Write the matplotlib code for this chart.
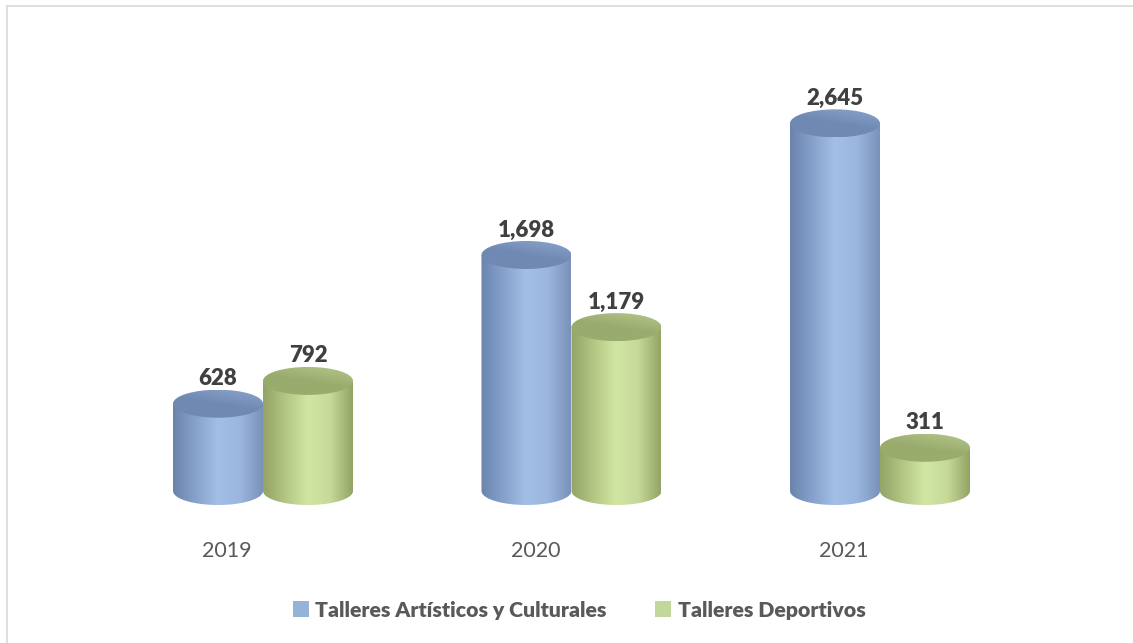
import numpy as np
import matplotlib
matplotlib.use("Agg")
import matplotlib.pyplot as plt
import matplotlib.transforms as mtransforms
from matplotlib.colors import LinearSegmentedColormap
from matplotlib.patches import Ellipse, Patch, PathPatch
from matplotlib.path import Path
from matplotlib.lines import Line2D

years = ["2019", "2020", "2021"]
series_names = ["Talleres Artísticos y Culturales", "Talleres Deportivos"]
artisticos = [628, 1698, 2645]
deportivos = [792, 1179, 311]

plt.rcParams['font.family'] = ['Lato', 'DejaVu Sans']

W, H = 1133, 643
fig = plt.figure(figsize=(W / 100, H / 100), dpi=100)
fig.patch.set_facecolor("white")

# axes placement (pixel based)
unit_px = 308.5
xlim = (-0.8, 2.8)
L = 263 - (0 - xlim[0]) * unit_px
R = L + (xlim[1] - xlim[0]) * unit_px
base_px = 491
ppu = 0.139
ylim = (-300, 3000)
bot_px = base_px - ylim[0] * ppu
top_px = base_px - ylim[1] * ppu
ax = fig.add_axes([L / W, (H - bot_px) / H, (R - L) / W, (bot_px - top_px) / H])
ax.set_xlim(*xlim)
ax.set_ylim(*ylim)
for s in ax.spines.values():
    s.set_visible(False)
ax.set_yticks([])
ax.set_xticks([])

bw = 90 / unit_px          # bar width in data units
eh = 14 / ppu              # ellipse half-height in data units

styles = [
    dict(body=["#6a84ad", "#86a2cc", "#a3bfe6", "#9ab6de", "#7a92ba"],
         top=("#7089b3", "#8ba4cc")),
    dict(body=["#93a466", "#b3c684", "#d2e6a4", "#c6d999", "#93a565"],
         top=("#99ab6d", "#b4c78a")),
]

def draw_cyl(xc, v, st, z):
    x0, x1 = xc - bw / 2, xc + bw / 2
    t = np.linspace(np.pi, 2 * np.pi, 40)
    lower = np.column_stack([xc + bw / 2 * np.cos(t), eh * np.sin(t)])
    verts = list(lower) + [(x1, v), (x0, v), (x0, 0)]
    codes = [Path.MOVETO] + [Path.LINETO] * (len(verts) - 2) + [Path.CLOSEPOLY]
    body = PathPatch(Path(verts, codes), facecolor="none", edgecolor="none",
                     transform=ax.transData)
    ax.add_patch(body)
    cmap = LinearSegmentedColormap.from_list("b", st["body"])
    grad = np.linspace(0, 1, 200).reshape(1, -1)
    im = ax.imshow(grad, extent=[x0, x1, -eh, v], aspect="auto", cmap=cmap,
                   zorder=z, interpolation="bilinear")
    im.set_clip_path(body)
    # top ellipse
    top = Ellipse((xc, v), bw, 2 * eh, facecolor="none", edgecolor="none",
                  transform=ax.transData)
    ax.add_patch(top)
    c0, c1 = st["top"]
    tc = LinearSegmentedColormap.from_list("t", [c0, c0, c1])
    gx, gy = np.meshgrid(np.linspace(0, 1, 60), np.linspace(0, 1, 30))
    g2 = 0.35 * gx + 0.65 * gy
    im2 = ax.imshow(g2, extent=[x0, x1, v + eh, v - eh], aspect="auto", cmap=tc,
                    zorder=z + 0.1, interpolation="bilinear")
    im2.set_clip_path(top)
    ax.annotate(f"{v:,}", (xc, v), xytext=(0, 18), textcoords="offset points",
                ha="center", va="center", fontsize=16, fontweight="heavy",
                color="#404040", zorder=z + 0.2, annotation_clip=False)

x = np.arange(len(years))
for i, (a, d) in enumerate(zip(artisticos, deportivos)):
    draw_cyl(x[i] - bw / 2, a, styles[0], 2 + i)
    draw_cyl(x[i] + bw / 2, d, styles[1], 2.5 + i)

ax.set_xlim(*xlim)
ax.set_ylim(*ylim)

# category labels (offset below the base, shifted left as in the 3D perspective)
offset = mtransforms.ScaledTranslation(0, -(551 - base_px) / 100, fig.dpi_scale_trans)
for i, yr in enumerate(years):
    ax.text(x[i] - 36 / unit_px, 0, yr, fontsize=15.5, color="#595959",
            ha="center", va="center", transform=ax.transData + offset)

handles = [Patch(facecolor="#95b3d7", edgecolor="none"),
           Patch(facecolor="#c3d69b", edgecolor="none")]
fig.legend(handles, series_names, loc="center", bbox_to_anchor=(0.511, 1 - 610 / H),
           ncol=2, frameon=False, handlelength=0.75, handleheight=0.75,
           handletextpad=0.3, columnspacing=2.3,
           prop=dict(family="Lato", weight="heavy", size=15.3),
           labelcolor="#595959")

# border (only top and left visible)
fig.add_artist(Line2D([7 / W, 7 / W], [0, 1 - 6 / H], transform=fig.transFigure,
                      color="#d9d9d9", lw=1.2))
fig.add_artist(Line2D([7 / W, 1], [1 - 6 / H, 1 - 6 / H], transform=fig.transFigure,
                      color="#d9d9d9", lw=1.2))

fig.savefig("out.png", dpi=100, facecolor="white")
